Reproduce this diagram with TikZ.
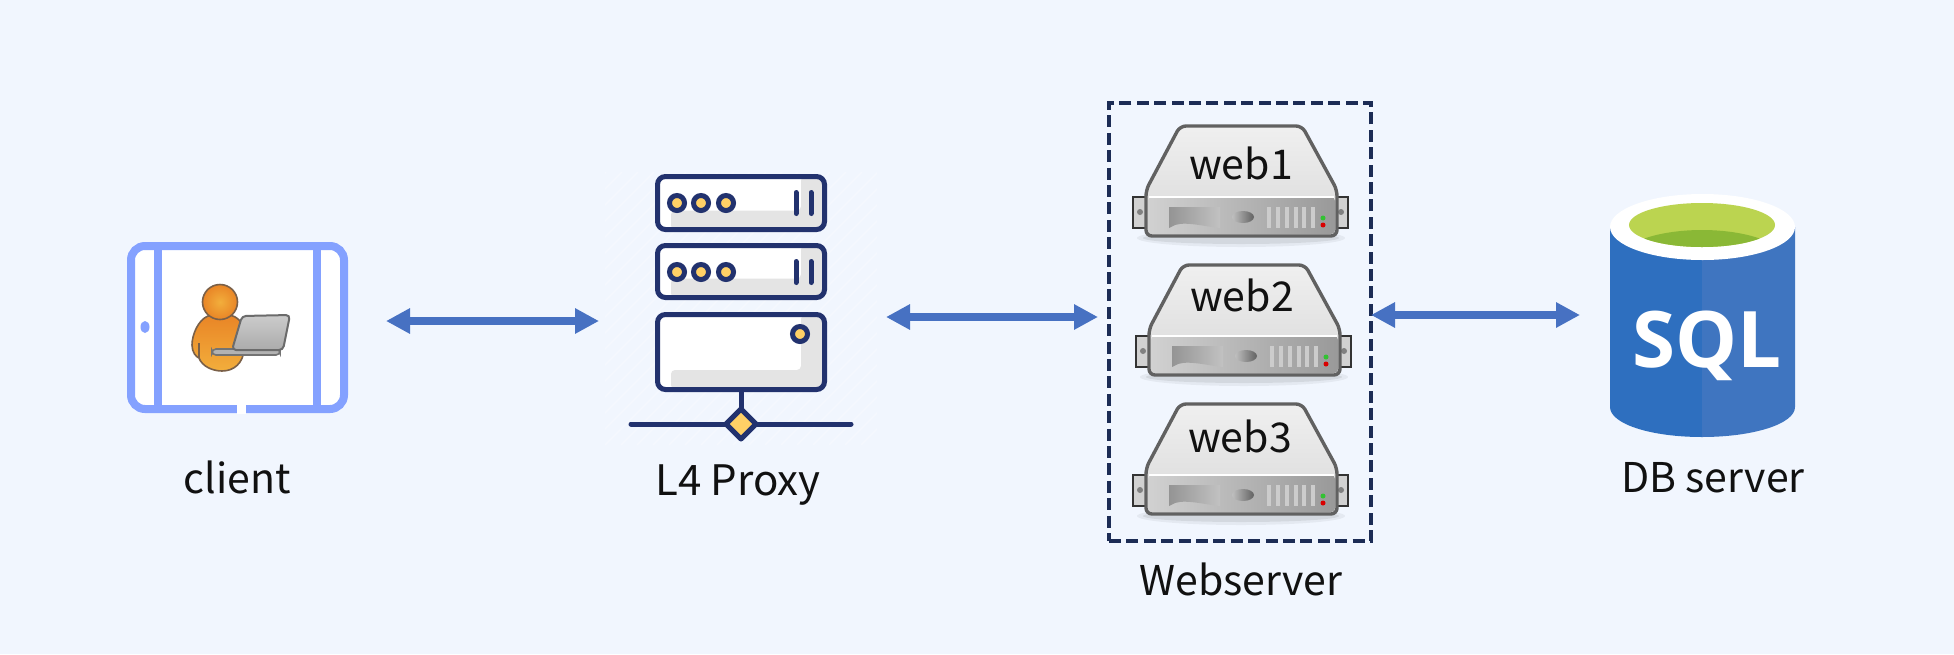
\documentclass[tikz,border=0pt]{standalone}
\usepackage{fontspec}
\setmainfont{Noto Sans CJK SC}
\newfontfamily\sqlfont{Open Sans}
\usepackage{xcolor}
\usetikzlibrary{arrows.meta,positioning}
\definecolor{page}{HTML}{F1F6FE}
\definecolor{ink}{HTML}{111111}
\definecolor{navy}{HTML}{22326E}
\definecolor{dashnavy}{HTML}{1C2C55}
\definecolor{amber}{HTML}{FFD066}
\definecolor{shade}{HTML}{E4E4E4}
\definecolor{tablet}{HTML}{84A1FF}
\definecolor{flowblue}{HTML}{4771C2}
\definecolor{sqlleft}{HTML}{2E6FBF}
\definecolor{sqlright}{HTML}{3F75C0}
\definecolor{limelight}{HTML}{BBD450}
\definecolor{limedark}{HTML}{8AB836}
\definecolor{skinlight}{HTML}{F2AE3C}
\definecolor{skindeep}{HTML}{E98526}
\definecolor{skinline}{HTML}{7A6048}
\tikzset{
  anchorbox/.style={inner sep=0pt,outer sep=0pt,minimum width=#1},
  caption/.style={anchor=base,inner sep=0pt,text=ink,font=\fontsize{20.5}{24}\selectfont},
  flow/.style={{Triangle[length=12pt,width=12pt]}-{Triangle[length=12pt,width=12pt]},line width=4pt,draw=flowblue},
  rack/.style={draw=navy,line width=2.5pt,fill=white,rounded corners=4pt},
  rackshade/.style={fill=shade,rounded corners=2pt},
  led/.style={draw=navy,line width=2.5pt,fill=amber},
  slot/.style={draw=navy,line width=2.5pt,line cap=round},
  webhost/.pic={
    \fill[black,opacity=.05] (0,114) ellipse [x radius=104,y radius=9];
    \fill[black,opacity=.07] (0,114) ellipse [x radius=98,y radius=6];
    \draw[draw=black!80,fill=black!18,line width=1.1pt] (-108,73) rectangle (-94,104);
    \draw[draw=black!80,fill=black!18,line width=1.1pt] (94,73) rectangle (107,104);
    \fill[black!50] (-101,88) circle (3);
    \fill[black!50] (100,88) circle (3);
    \path[top color=black!6,bottom color=black!15,rounded corners=3pt] (-61,2) -- (61,2) -- (96,66) -- (96,112) -- (-95,112) -- (-95,66) -- cycle;
    \path[left color=black!18,right color=black!40,rounded corners=2pt] (-93,73) rectangle (94,110);
    \draw[white,line width=1pt] (-92,73) -- (93,73);
    \path[left color=black!42,right color=black!24] (-72,83) -- (-21,83) -- (-21,104) .. controls (-40,102) and (-60,96) .. (-70,103) -- (-72,104) -- cycle;
    \path[left color=black!25,right color=black!62] (2,93) ellipse [x radius=11,y radius=6];
    \foreach \vent in {28,37,46,55,63,72}
      \fill[black!20] (\vent-2,83) rectangle (\vent+2,104);
    \fill[green!70!black!80] (82,94) circle (2.5);
    \fill[red!85!black] (82,101) circle (2.5);
    \draw[draw=black!62,line width=1.7pt,rounded corners=3pt] (-61,2) -- (61,2) -- (96,66) -- (96,112) -- (-95,112) -- (-95,66) -- cycle;
  }
}

\begin{document}
\begin{tikzpicture}[x=0.5pt,y=-0.5pt]
    \useasboundingbox (0,0) rectangle (1954,654);
    \fill[page] (0,0) rectangle (1954,654);

    % client tablet
    \draw[tablet,fill=white,line width=4pt,rounded corners=7pt] (131,246) rectangle (344,409);
    \draw[tablet,line width=4pt] (158,246) -- (158,409);
    \draw[tablet,line width=4pt] (317,246) -- (317,409);
    \fill[tablet] (145,327) ellipse [x radius=4.5,y radius=6];
    \fill[white] (236.5,404) rectangle (245.5,414);

    \path[top color=skindeep,bottom color=skinlight,draw=skinline,line width=.8pt] (208,316) .. controls (198,320) and (192,335) .. (192,345) .. controls (192,352) and (196,357) .. (199,358) .. controls (202,366) and (212,371) .. (222,371) .. controls (234,371) and (243,363) .. (244,350) -- (244,330) .. controls (243,322) and (236,316) .. (230,315) -- cycle;
    \draw[skinline,line width=.6pt] (199,343) -- (199,358);
    \path[inner color=skinlight,outer color=skindeep,draw=skinline,line width=.8pt] (220,302) circle (17.5);
    \path[fill=black!30,draw=black!55,line width=.8pt,rounded corners=2pt] (212,349) rectangle (280,355);
    \path[top color=black!20,bottom color=black!33,draw=black!58,line width=1pt,rounded corners=2pt] (242,316) -- (290,315) -- (283,350) -- (232,350) -- cycle;

    % proxy rack
    \begin{scope}
      \clip (605,172) rectangle (877,445);
      \foreach \hatch in {-272,-256,...,288}
        \draw[white,opacity=.3,line width=.6pt] (605+\hatch,445) -- (605+\hatch+273,172);
    \end{scope}
    \foreach \top/\low in {176.5/229.5,245.5/297.5}{
      \path[rack,draw=none] (657.5,\top) rectangle (824.5,\low);
      \path[rackshade] (671,\low-19) -- (801,\low-19) -- (801,\top) -- (824,\top) -- (824,\low) -- (671,\low) -- cycle;
      \draw[rack,fill=none] (657.5,\top) rectangle (824.5,\low);
      \foreach \dotx in {677,701,726}
        \draw[led] (\dotx,\top+26.5) circle (7.5);
      \draw[slot] (796,\top+16) -- (796,\top+37);
      \draw[slot] (811,\top+16) -- (811,\top+37);
    }
    \path[rack,draw=none] (657.5,314.5) rectangle (824.5,389.5);
    \path[rackshade] (671,370) -- (801,370) -- (801,315) -- (824,315) -- (824,389) -- (671,389) -- cycle;
    \draw[rack,fill=none] (657.5,314.5) rectangle (824.5,389.5);
    \draw[led] (800,334) circle (7.5);
    \draw[slot] (741,390) -- (741,410);
    \draw[slot] (631,424) -- (851,424);
    \draw[led,line join=round] (741,409) -- (756,424) -- (741,439) -- (726,424) -- cycle;

    % web servers
    \pic at (1241,124) {webhost};
    \pic at (1244,263) {webhost};
    \pic at (1241,402) {webhost};
    \node[caption] (web1) at (1241,179) {web1};
    \node[caption] (web2) at (1242,311) {web2};
    \node[caption] (web3) at (1240,452) {web3};

    % sql database
    \fill[sqlleft] (1610,227) -- (1610,407) .. controls (1610,424) and (1651,437) .. (1702,437) -- (1702,227) -- cycle;
    \fill[sqlright] (1702,227) -- (1702,437) .. controls (1753,437) and (1795,424) .. (1795,407) -- (1795,227) -- cycle;
    \fill[white] (1702.5,227) ellipse [x radius=92.5,y radius=33];
    \fill[limelight] (1702,225) ellipse [x radius=73,y radius=22];
    \begin{scope}
      \clip (1702,225) ellipse [x radius=73,y radius=22];
      \fill[limedark] (1702,262) ellipse [x radius=85,y radius=32];
    \end{scope}
    \node[anchor=base,inner sep=0pt,text=white,font=\sqlfont\bfseries\fontsize{39}{41}\selectfont] (sql) at (1707,367) {SQL};

    % connector ends
    \node[anchorbox=149pt,minimum height=30pt] (client) at (237,321) {};
    \node[anchorbox=143.5pt,minimum height=136pt] (proxy) at (742.5,319) {};
    \node[anchorbox=131pt,minimum height=219pt,draw=dashnavy,line width=1.75pt,dash pattern=on 6pt off 2.7pt] (webbox) at (1240,322) {};
    \node[anchorbox=122.5pt,minimum height=121.5pt] (dbsrv) at (1702.5,315) {};

    \draw[flow] (client.east) -- ([yshift=-1pt]proxy.west);
    \draw[flow] ([yshift=1pt]proxy.east) -- ([xshift=-5.5pt,yshift=2.5pt]webbox.west);
    \draw[flow] ([yshift=3.5pt]webbox.east) -- (dbsrv.west);

    \node[caption] (clienttext) at (237,493) {client};
    \node[caption,font=\fontsize{21}{24}\selectfont] (proxytext) at (738,495) {L4 Proxy};
    \node[caption] (webtext) at (1241,595) {Webserver};
    \node[caption] (dbtext) at (1713,492) {DB server};
  \end{tikzpicture}
\end{document}
